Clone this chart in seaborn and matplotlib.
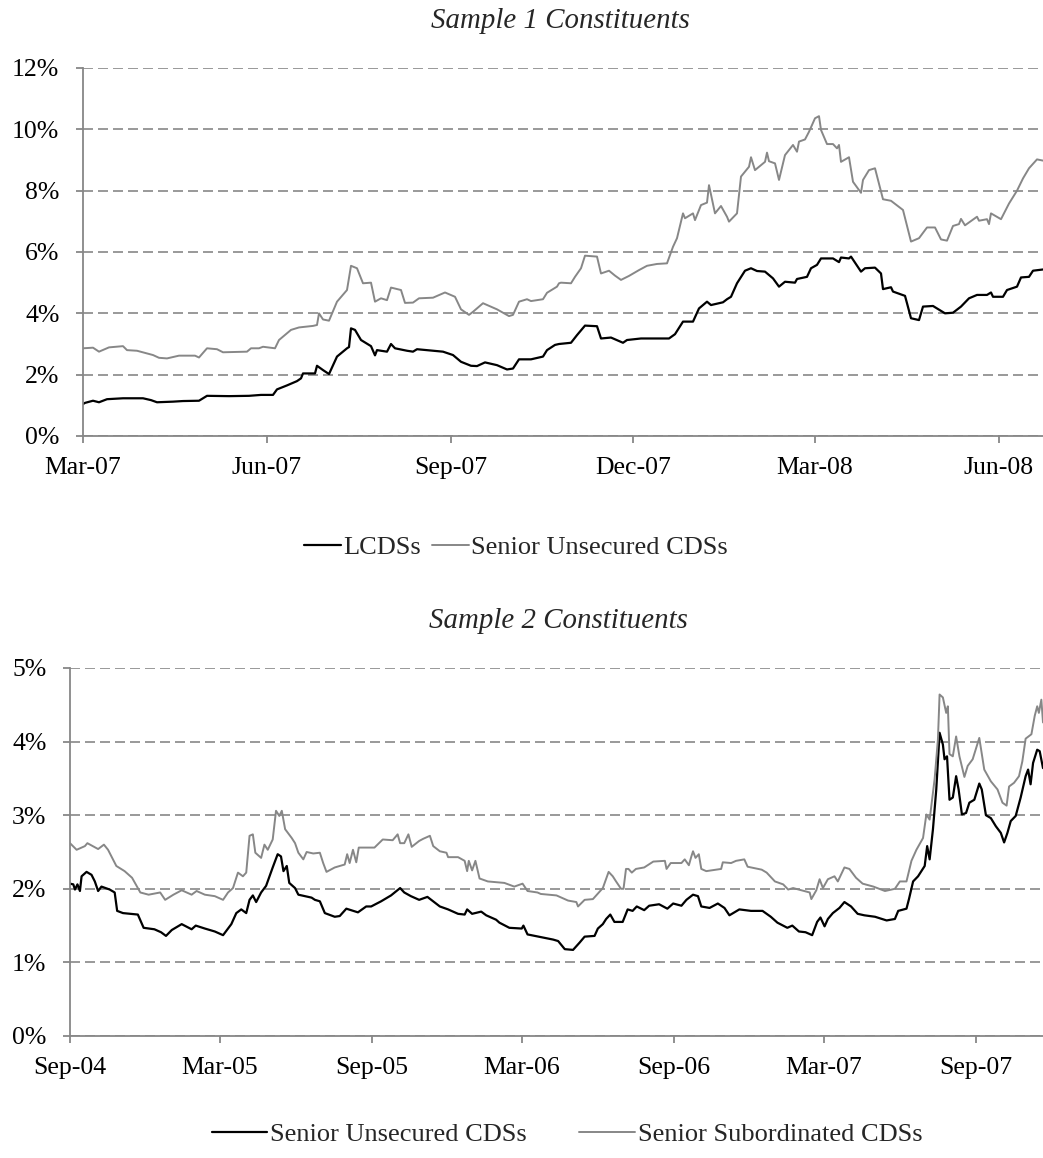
import pandas as pd
import matplotlib
matplotlib.use("Agg")
import matplotlib.pyplot as plt
import matplotlib.dates as mdates
from matplotlib.ticker import FuncFormatter, MultipleLocator
import seaborn as sns

# ---- Sample 1: LCDSs (black) ----
s1_lcds_dates = [
    "2007-03-01", "2007-03-02", "2007-03-06", "2007-03-09", "2007-03-13", "2007-03-21", "2007-03-31",
    "2007-04-04", "2007-04-07", "2007-04-15", "2007-04-20", "2007-04-28", "2007-05-02", "2007-05-13",
    "2007-05-23", "2007-05-29", "2007-06-04", "2007-06-06", "2007-06-11", "2007-06-16", "2007-06-18",
    "2007-06-19", "2007-06-25", "2007-06-26", "2007-06-29", "2007-07-02", "2007-07-06", "2007-07-11",
    "2007-07-12", "2007-07-13", "2007-07-15", "2007-07-18", "2007-07-23", "2007-07-25", "2007-07-26",
    "2007-07-31", "2007-08-02", "2007-08-04", "2007-08-10", "2007-08-13", "2007-08-15", "2007-08-28",
    "2007-09-02", "2007-09-06", "2007-09-11", "2007-09-14", "2007-09-18", "2007-09-24", "2007-09-29",
    "2007-10-02", "2007-10-05", "2007-10-11", "2007-10-17", "2007-10-19", "2007-10-23", "2007-10-25",
    "2007-10-31", "2007-11-03", "2007-11-07", "2007-11-13", "2007-11-15", "2007-11-20", "2007-11-26",
    "2007-11-28", "2007-12-05", "2007-12-19", "2007-12-22", "2007-12-26", "2007-12-31", "2008-01-03",
    "2008-01-07", "2008-01-09", "2008-01-15", "2008-01-17", "2008-01-19", "2008-01-22", "2008-01-26",
    "2008-01-29", "2008-02-01", "2008-02-05", "2008-02-09", "2008-02-12", "2008-02-15", "2008-02-20",
    "2008-02-21", "2008-02-26", "2008-02-28", "2008-03-02", "2008-03-04", "2008-03-10", "2008-03-13",
    "2008-03-14", "2008-03-18", "2008-03-19", "2008-03-24", "2008-03-26", "2008-03-31", "2008-04-03",
    "2008-04-04", "2008-04-08", "2008-04-09", "2008-04-15", "2008-04-16", "2008-04-18", "2008-04-22",
    "2008-04-24", "2008-04-29", "2008-05-05", "2008-05-09", "2008-05-13", "2008-05-17", "2008-05-21",
    "2008-05-26", "2008-05-28", "2008-05-29", "2008-06-03", "2008-06-05", "2008-06-10", "2008-06-12",
    "2008-06-16", "2008-06-18", "2008-06-23",
]
s1_lcds_vals = [
    1.04, 1.08, 1.15, 1.10, 1.20, 1.23, 1.23,
    1.17, 1.10, 1.12, 1.14, 1.15, 1.31, 1.30,
    1.31, 1.34, 1.34, 1.52, 1.65, 1.79, 1.88,
    2.04, 2.04, 2.29, 2.15, 2.02, 2.59, 2.86,
    2.90, 3.51, 3.46, 3.13, 2.93, 2.63, 2.80,
    2.75, 3.00, 2.86, 2.78, 2.75, 2.83, 2.75,
    2.64, 2.42, 2.29, 2.28, 2.40, 2.31, 2.17,
    2.20, 2.50, 2.50, 2.59, 2.80, 2.97, 3.00,
    3.04, 3.29, 3.60, 3.58, 3.18, 3.21, 3.04,
    3.13, 3.18, 3.18, 3.32, 3.73, 3.73, 4.16,
    4.38, 4.27, 4.36, 4.46, 4.54, 4.98, 5.39,
    5.47, 5.38, 5.36, 5.14, 4.87, 5.03, 5.00,
    5.12, 5.19, 5.47, 5.58, 5.79, 5.79, 5.67,
    5.82, 5.79, 5.85, 5.36, 5.47, 5.49, 5.30,
    4.79, 4.85, 4.71, 4.57, 4.33, 3.84, 3.78,
    4.22, 4.24, 4.00, 4.02, 4.22, 4.49, 4.60,
    4.60, 4.68, 4.54, 4.54, 4.76, 4.87, 5.17,
    5.19, 5.39, 5.43,
]

# ---- Sample 1: Senior Unsecured CDSs (gray) ----
s1_senior_dates = [
    "2007-03-01", "2007-03-06", "2007-03-09", "2007-03-14", "2007-03-21", "2007-03-23", "2007-03-28",
    "2007-04-05", "2007-04-08", "2007-04-12", "2007-04-18", "2007-04-26", "2007-04-28", "2007-05-02",
    "2007-05-07", "2007-05-10", "2007-05-22", "2007-05-24", "2007-05-28", "2007-05-30", "2007-06-05",
    "2007-06-07", "2007-06-13", "2007-06-17", "2007-06-24", "2007-06-26", "2007-06-27", "2007-06-29",
    "2007-07-02", "2007-07-06", "2007-07-11", "2007-07-13", "2007-07-16", "2007-07-19", "2007-07-23",
    "2007-07-25", "2007-07-28", "2007-07-31", "2007-08-02", "2007-08-07", "2007-08-09", "2007-08-13",
    "2007-08-16", "2007-08-23", "2007-08-29", "2007-09-03", "2007-09-06", "2007-09-10", "2007-09-12",
    "2007-09-17", "2007-09-24", "2007-09-30", "2007-10-02", "2007-10-05", "2007-10-09", "2007-10-11",
    "2007-10-17", "2007-10-19", "2007-10-24", "2007-10-25", "2007-10-26", "2007-10-31", "2007-11-02",
    "2007-11-05", "2007-11-07", "2007-11-13", "2007-11-15", "2007-11-19", "2007-11-22", "2007-11-25",
    "2007-11-29", "2007-12-04", "2007-12-08", "2007-12-13", "2007-12-18", "2007-12-21", "2007-12-23",
    "2007-12-26", "2007-12-27", "2007-12-31", "2008-01-01", "2008-01-04", "2008-01-07", "2008-01-08",
    "2008-01-11", "2008-01-14", "2008-01-17", "2008-01-18", "2008-01-22", "2008-01-24", "2008-01-28",
    "2008-01-29", "2008-01-31", "2008-02-05", "2008-02-06", "2008-02-07", "2008-02-10", "2008-02-12",
    "2008-02-15", "2008-02-19", "2008-02-21", "2008-02-22", "2008-02-25", "2008-02-27", "2008-03-01",
    "2008-03-03", "2008-03-04", "2008-03-07", "2008-03-10", "2008-03-12", "2008-03-13", "2008-03-14",
    "2008-03-18", "2008-03-20", "2008-03-24", "2008-03-25", "2008-03-28", "2008-03-31", "2008-04-04",
    "2008-04-08", "2008-04-14", "2008-04-18", "2008-04-22", "2008-04-26", "2008-04-30", "2008-05-03",
    "2008-05-06", "2008-05-09", "2008-05-12", "2008-05-13", "2008-05-15", "2008-05-21", "2008-05-22",
    "2008-05-26", "2008-05-27", "2008-05-28", "2008-06-02", "2008-06-06", "2008-06-10", "2008-06-13",
    "2008-06-16", "2008-06-20", "2008-06-23",
]
s1_senior_vals = [
    2.86, 2.88, 2.75, 2.89, 2.93, 2.80, 2.78,
    2.64, 2.55, 2.53, 2.62, 2.62, 2.56, 2.86,
    2.83, 2.73, 2.75, 2.86, 2.86, 2.91, 2.86,
    3.13, 3.46, 3.54, 3.59, 3.62, 4.00, 3.80,
    3.76, 4.38, 4.76, 5.55, 5.47, 4.98, 5.00,
    4.38, 4.49, 4.43, 4.84, 4.76, 4.34, 4.35,
    4.49, 4.51, 4.68, 4.54, 4.13, 3.95, 4.05,
    4.33, 4.13, 3.91, 3.95, 4.38, 4.46, 4.40,
    4.46, 4.67, 4.87, 4.98, 5.00, 4.98, 5.19,
    5.47, 5.88, 5.85, 5.30, 5.39, 5.23, 5.09,
    5.22, 5.41, 5.55, 5.61, 5.63, 6.17, 6.45,
    7.26, 7.10, 7.26, 7.04, 7.53, 7.61, 8.18,
    7.26, 7.50, 7.15, 6.99, 7.26, 8.46, 8.78,
    9.09, 8.67, 8.94, 9.24, 8.96, 8.89, 8.35,
    9.16, 9.49, 9.27, 9.60, 9.67, 9.92, 10.36,
    10.43, 9.98, 9.52, 9.52, 9.38, 9.49, 8.94,
    9.09, 8.29, 7.93, 8.35, 8.67, 8.73, 7.72,
    7.67, 7.37, 6.34, 6.45, 6.80, 6.80, 6.41,
    6.37, 6.85, 6.91, 7.08, 6.87, 7.15, 7.02,
    7.07, 6.91, 7.26, 7.07, 7.58, 8.00, 8.40,
    8.73, 9.02, 8.98,
]

# ---- Sample 2: Senior Unsecured CDSs (black) ----
s2_unsec_dates = [
    "2004-09-01", "2004-09-05", "2004-09-07", "2004-09-10", "2004-09-13", "2004-09-15", "2004-09-21",
    "2004-09-27", "2004-10-01", "2004-10-05", "2004-10-09", "2004-10-19", "2004-10-25", "2004-10-28",
    "2004-11-04", "2004-11-22", "2004-11-29", "2004-12-12", "2004-12-20", "2004-12-26", "2005-01-02",
    "2005-01-14", "2005-01-26", "2005-01-31", "2005-02-11", "2005-02-23", "2005-03-05", "2005-03-15",
    "2005-03-21", "2005-03-27", "2005-04-02", "2005-04-06", "2005-04-10", "2005-04-14", "2005-04-20",
    "2005-04-26", "2005-05-04", "2005-05-10", "2005-05-14", "2005-05-17", "2005-05-21", "2005-05-24",
    "2005-05-31", "2005-06-04", "2005-06-08", "2005-06-20", "2005-06-24", "2005-06-30", "2005-07-06",
    "2005-07-18", "2005-07-24", "2005-08-01", "2005-08-15", "2005-08-25", "2005-08-31", "2005-09-12",
    "2005-09-24", "2005-10-05", "2005-10-10", "2005-10-18", "2005-10-28", "2005-11-07", "2005-11-22",
    "2005-12-02", "2005-12-14", "2005-12-22", "2005-12-25", "2005-12-31", "2006-01-11", "2006-01-17",
    "2006-01-29", "2006-02-02", "2006-02-14", "2006-03-01", "2006-03-03", "2006-03-08", "2006-03-21",
    "2006-04-08", "2006-04-14", "2006-04-22", "2006-05-02", "2006-05-10", "2006-05-16", "2006-05-28",
    "2006-06-01", "2006-06-07", "2006-06-11", "2006-06-16", "2006-06-21", "2006-07-01", "2006-07-07",
    "2006-07-13", "2006-07-18", "2006-07-27", "2006-08-02", "2006-08-14", "2006-08-24", "2006-08-31",
    "2006-09-10", "2006-09-16", "2006-09-24", "2006-09-30", "2006-10-04", "2006-10-14", "2006-10-24",
    "2006-11-01", "2006-11-07", "2006-11-19", "2006-12-03", "2006-12-17", "2006-12-27", "2007-01-04",
    "2007-01-16", "2007-01-22", "2007-01-30", "2007-02-07", "2007-02-15", "2007-02-21", "2007-02-25",
    "2007-03-02", "2007-03-06", "2007-03-12", "2007-03-20", "2007-03-26", "2007-04-03", "2007-04-11",
    "2007-04-19", "2007-05-02", "2007-05-16", "2007-05-26", "2007-05-30", "2007-06-09", "2007-06-12",
    "2007-06-17", "2007-06-23", "2007-07-01", "2007-07-04", "2007-07-07", "2007-07-11", "2007-07-15",
    "2007-07-19", "2007-07-23", "2007-07-25", "2007-07-28", "2007-07-31", "2007-08-04", "2007-08-08",
    "2007-08-11", "2007-08-15", "2007-08-20", "2007-08-24", "2007-08-30", "2007-09-05", "2007-09-08",
    "2007-09-13", "2007-09-19", "2007-09-25", "2007-10-01", "2007-10-05", "2007-10-09", "2007-10-13",
    "2007-10-19", "2007-10-25", "2007-10-31", "2007-11-03", "2007-11-06", "2007-11-09", "2007-11-14",
    "2007-11-17", "2007-11-21",
]
s2_unsec_vals = [
    2.07, 2.06, 1.99, 2.06, 1.97, 2.17, 2.23,
    2.19, 2.10, 1.97, 2.03, 1.99, 1.95, 1.70,
    1.67, 1.65, 1.47, 1.45, 1.41, 1.36, 1.44,
    1.52, 1.45, 1.50, 1.46, 1.42, 1.37, 1.52,
    1.67, 1.72, 1.67, 1.85, 1.91, 1.82, 1.95,
    2.04, 2.29, 2.47, 2.44, 2.24, 2.31, 2.08,
    2.01, 1.92, 1.91, 1.88, 1.85, 1.83, 1.67,
    1.62, 1.63, 1.73, 1.68, 1.76, 1.76, 1.83,
    1.91, 2.01, 1.95, 1.90, 1.85, 1.89, 1.76,
    1.72, 1.66, 1.65, 1.72, 1.66, 1.69, 1.64,
    1.58, 1.54, 1.47, 1.46, 1.50, 1.38, 1.35,
    1.31, 1.29, 1.18, 1.17, 1.27, 1.35, 1.36,
    1.46, 1.52, 1.59, 1.65, 1.55, 1.55, 1.72,
    1.70, 1.76, 1.71, 1.77, 1.79, 1.73, 1.80,
    1.77, 1.85, 1.92, 1.90, 1.76, 1.74, 1.80,
    1.74, 1.64, 1.72, 1.70, 1.70, 1.62, 1.54,
    1.47, 1.50, 1.42, 1.41, 1.37, 1.55, 1.61,
    1.49, 1.59, 1.67, 1.74, 1.82, 1.76, 1.66,
    1.64, 1.62, 1.57, 1.59, 1.70, 1.73, 1.86,
    2.10, 2.17, 2.31, 2.58, 2.40, 2.81, 3.35,
    4.12, 3.96, 3.76, 3.80, 3.21, 3.24, 3.53,
    3.35, 3.01, 3.03, 3.17, 3.21, 3.43, 3.35,
    3.00, 2.96, 2.85, 2.76, 2.63, 2.76, 2.92,
    2.99, 3.24, 3.53, 3.62, 3.42, 3.71, 3.89,
    3.87, 3.64,
]

# ---- Sample 2: Senior Subordinated CDSs (gray) ----
s2_sub_dates = [
    "2004-09-01", "2004-09-09", "2004-09-19", "2004-09-22", "2004-10-05", "2004-10-12", "2004-10-17",
    "2004-10-27", "2004-11-06", "2004-11-15", "2004-11-25", "2004-12-05", "2004-12-19", "2004-12-25",
    "2005-01-04", "2005-01-14", "2005-01-26", "2005-02-01", "2005-02-11", "2005-02-23", "2005-03-05",
    "2005-03-11", "2005-03-17", "2005-03-23", "2005-03-29", "2005-04-02", "2005-04-06", "2005-04-10",
    "2005-04-13", "2005-04-20", "2005-04-24", "2005-04-28", "2005-05-04", "2005-05-08", "2005-05-12",
    "2005-05-15", "2005-05-19", "2005-05-27", "2005-05-31", "2005-06-04", "2005-06-10", "2005-06-14",
    "2005-06-22", "2005-06-30", "2005-07-04", "2005-07-08", "2005-07-18", "2005-07-30", "2005-08-02",
    "2005-08-05", "2005-08-09", "2005-08-13", "2005-08-16", "2005-09-04", "2005-09-14", "2005-09-26",
    "2005-10-02", "2005-10-05", "2005-10-10", "2005-10-15", "2005-10-19", "2005-10-28", "2005-11-02",
    "2005-11-10", "2005-11-14", "2005-11-22", "2005-11-30", "2005-12-02", "2005-12-14", "2005-12-22",
    "2005-12-25", "2005-12-27", "2005-12-31", "2006-01-04", "2006-01-09", "2006-01-19", "2006-02-08",
    "2006-02-20", "2006-03-02", "2006-03-08", "2006-03-20", "2006-03-24", "2006-04-12", "2006-04-26",
    "2006-05-06", "2006-05-08", "2006-05-16", "2006-05-26", "2006-06-07", "2006-06-14", "2006-06-19",
    "2006-06-23", "2006-06-29", "2006-07-02", "2006-07-05", "2006-07-08", "2006-07-12", "2006-07-17",
    "2006-07-27", "2006-08-07", "2006-08-21", "2006-08-23", "2006-08-28", "2006-09-10", "2006-09-14",
    "2006-09-19", "2006-09-22", "2006-09-24", "2006-09-27", "2006-10-01", "2006-10-04", "2006-10-10",
    "2006-10-28", "2006-10-30", "2006-11-09", "2006-11-15", "2006-11-25", "2006-11-29", "2006-12-16",
    "2006-12-22", "2007-01-01", "2007-01-11", "2007-01-17", "2007-01-23", "2007-02-02", "2007-02-12",
    "2007-02-14", "2007-02-20", "2007-02-24", "2007-02-28", "2007-03-06", "2007-03-14", "2007-03-18",
    "2007-03-26", "2007-04-01", "2007-04-09", "2007-04-17", "2007-04-30", "2007-05-14", "2007-05-26",
    "2007-06-01", "2007-06-09", "2007-06-15", "2007-06-21", "2007-06-29", "2007-07-03", "2007-07-07",
    "2007-07-13", "2007-07-17", "2007-07-19", "2007-07-23", "2007-07-27", "2007-07-29", "2007-07-31",
    "2007-08-04", "2007-08-08", "2007-08-12", "2007-08-18", "2007-08-22", "2007-08-28", "2007-09-05",
    "2007-09-11", "2007-09-19", "2007-09-27", "2007-10-03", "2007-10-08", "2007-10-11", "2007-10-17",
    "2007-10-23", "2007-10-27", "2007-10-31", "2007-11-07", "2007-11-11", "2007-11-14", "2007-11-16",
    "2007-11-19", "2007-11-21",
]
s2_sub_vals = [
    2.62, 2.53, 2.58, 2.62, 2.54, 2.60, 2.53,
    2.31, 2.24, 2.15, 1.95, 1.92, 1.95, 1.85,
    1.92, 1.98, 1.92, 1.97, 1.92, 1.90, 1.85,
    1.95, 2.01, 2.22, 2.17, 2.22, 2.72, 2.74,
    2.49, 2.42, 2.60, 2.53, 2.67, 3.06, 2.99,
    3.06, 2.81, 2.69, 2.62, 2.49, 2.40, 2.50,
    2.48, 2.49, 2.35, 2.23, 2.29, 2.33, 2.47,
    2.35, 2.53, 2.36, 2.56, 2.56, 2.67, 2.66,
    2.74, 2.62, 2.62, 2.74, 2.57, 2.65, 2.68,
    2.72, 2.58, 2.51, 2.49, 2.43, 2.43, 2.38,
    2.24, 2.38, 2.25, 2.38, 2.14, 2.10, 2.08,
    2.03, 2.07, 1.97, 1.95, 1.93, 1.91, 1.84,
    1.82, 1.76, 1.85, 1.86, 2.01, 2.23, 2.17,
    2.10, 2.00, 2.00, 2.27, 2.27, 2.22, 2.27,
    2.29, 2.37, 2.38, 2.27, 2.35, 2.35, 2.40,
    2.32, 2.44, 2.51, 2.42, 2.47, 2.27, 2.24,
    2.27, 2.36, 2.35, 2.38, 2.40, 2.30, 2.26,
    2.22, 2.10, 2.06, 1.99, 2.01, 1.98, 1.95,
    1.86, 1.98, 2.13, 2.01, 2.13, 2.17, 2.10,
    2.29, 2.27, 2.15, 2.07, 2.03, 1.97, 2.00,
    2.10, 2.10, 2.38, 2.53, 2.69, 3.01, 2.94,
    3.49, 4.03, 4.64, 4.60, 4.39, 4.48, 3.83,
    3.80, 4.07, 3.80, 3.52, 3.67, 3.76, 4.05,
    3.62, 3.46, 3.35, 3.17, 3.13, 3.39, 3.44,
    3.53, 3.73, 4.04, 4.10, 4.35, 4.48, 4.39,
    4.57, 4.26,
]

W, H = 1043, 1158
GRAY = "#878787"
FS = 18.5

sns.set_theme(style="white")
plt.rcParams["font.family"] = ["Liberation Serif", "DejaVu Serif"]


def style_axes(ax, ymax, ystep, xlim, months):
    ax.set_xlim(pd.Timestamp(xlim[0]), pd.Timestamp(xlim[1]))
    ax.set_ylim(0, ymax)
    ax.yaxis.set_major_locator(MultipleLocator(ystep))
    ax.yaxis.set_major_formatter(FuncFormatter(lambda v, p: f"{v:.0f}%"))
    ax.xaxis.set_major_locator(mdates.MonthLocator(bymonth=months))
    ax.xaxis.set_major_formatter(mdates.DateFormatter("%b-%y"))
    for side in ["top", "right"]:
        ax.spines[side].set_visible(False)
    for side in ["left", "bottom"]:
        ax.spines[side].set_color(GRAY)
        ax.spines[side].set_linewidth(1.3)
    ax.tick_params(axis="both", which="major", direction="out", length=5, width=1.3,
                   color=GRAY, labelsize=FS, labelcolor="black")
    ax.tick_params(axis="x", pad=10, bottom=True)
    ax.tick_params(axis="y", pad=12, left=True)
    ax.yaxis.grid(True, linestyle=(0, (6, 3)), color=GRAY, linewidth=1.2)
    ax.xaxis.grid(False)
    ax.set_axisbelow(True)
    ax.set_xlabel("")
    ax.set_ylabel("")


fig = plt.figure(figsize=(W / 100, H / 100), dpi=100)
ax1 = fig.add_axes([83 / W, 1 - 436 / H, 960 / W, 368 / H])
ax2 = fig.add_axes([70 / W, 1 - 1036 / H, 973 / W, 368 / H])

# Sample 1
sns.lineplot(x=pd.to_datetime(s1_lcds_dates), y=s1_lcds_vals, ax=ax1, color="black",
             linewidth=1.6, label="LCDSs", estimator=None, sort=False)
sns.lineplot(x=pd.to_datetime(s1_senior_dates), y=s1_senior_vals, ax=ax1, color=GRAY,
             linewidth=1.4, label="Senior Unsecured CDSs", estimator=None, sort=False)
style_axes(ax1, 12, 2, ("2007-03-01", "2008-06-23"), [3, 6, 9, 12])

# Sample 2
sns.lineplot(x=pd.to_datetime(s2_unsec_dates), y=s2_unsec_vals, ax=ax2, color="black",
             linewidth=1.6, label="Senior Unsecured CDSs", estimator=None, sort=False)
sns.lineplot(x=pd.to_datetime(s2_sub_dates), y=s2_sub_vals, ax=ax2, color=GRAY,
             linewidth=1.4, label="Senior Subordinated CDSs", estimator=None, sort=False)
style_axes(ax2, 5, 1, ("2004-09-01", "2007-11-21"), [3, 9])

# titles
fig.text(560 / W, 1 - 28 / H, "Sample 1 Constituents", ha="center", va="baseline",
         fontsize=20.8, style="italic")
fig.text(558 / W, 1 - 628 / H, "Sample 2 Constituents", ha="center", va="baseline",
         fontsize=20.8, style="italic")

# legends below each chart
h, l = ax1.get_legend_handles_labels()
ax1.get_legend().remove()
fig.legend(h, l, loc="center", bbox_to_anchor=(516 / W, 1 - 547 / H), ncol=2, frameon=False,
           fontsize=19, handlelength=1.4, handletextpad=0.1, columnspacing=0.4)

h, l = ax2.get_legend_handles_labels()
ax2.get_legend().remove()
fig.legend(h, l, loc="center", bbox_to_anchor=(567 / W, 1 - 1134 / H), ncol=2, frameon=False,
           fontsize=19, handlelength=2.1, handletextpad=0.1, columnspacing=2.0)

fig.savefig("out.png", dpi=100)
